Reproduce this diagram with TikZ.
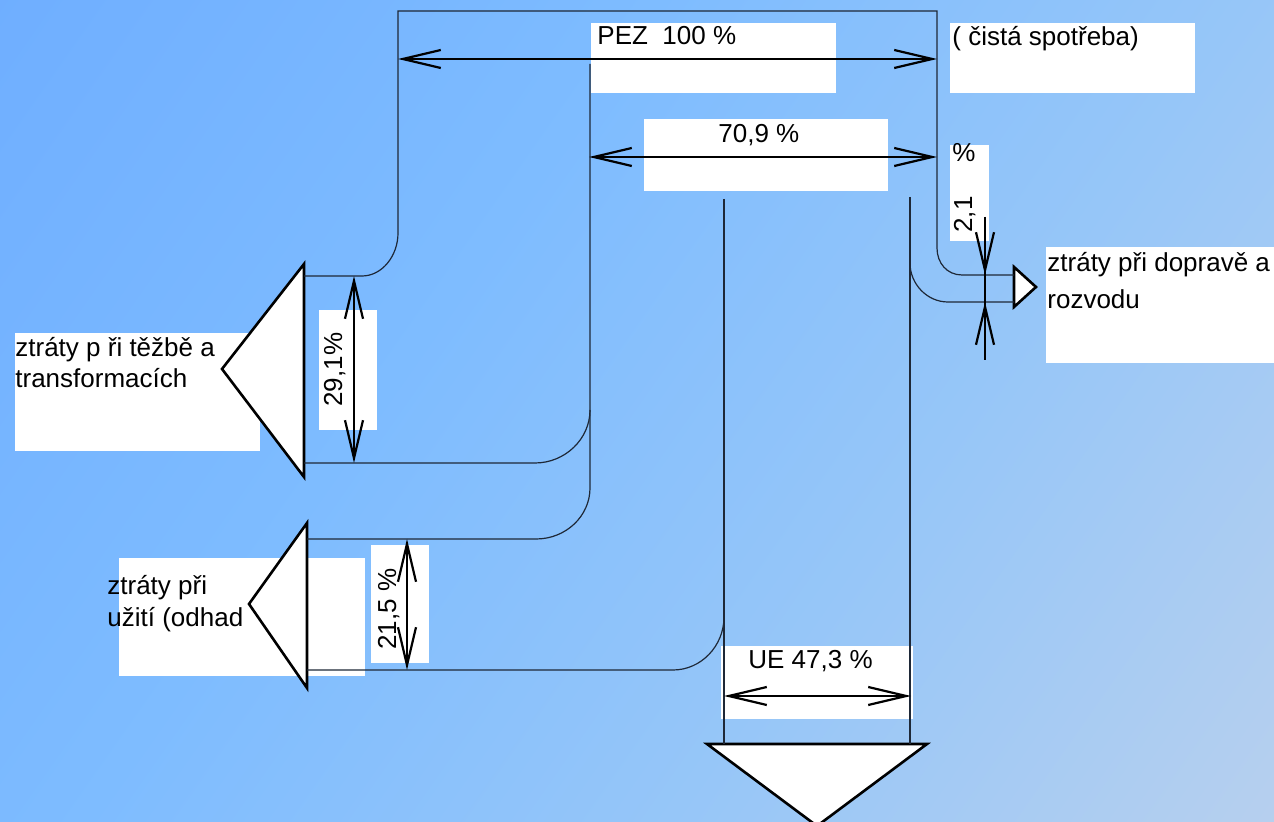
\documentclass[tikz,border=0pt]{standalone}
\usepackage{fontspec}
\setmainfont{Liberation Sans}
\usetikzlibrary{arrows.meta}
\definecolor{bgA}{RGB}{102,166,255}
\definecolor{bgB}{RGB}{126,188,255}
\definecolor{bgD}{RGB}{150,198,248}
\definecolor{bgC}{RGB}{204,214,232}
\definecolor{flowcol}{RGB}{30,40,55}
\pgfdeclarehorizontalshading{bgshade}{100bp}{color(0bp)=(bgA); color(40bp)=(bgB); color(62bp)=(bgD); color(100bp)=(bgC)}
\begin{document}
\begin{tikzpicture}[x=0.5pt,y=-0.5pt,
  flowline/.style={draw=flowcol, line width=0.6pt},
  dimarrow/.style={draw=black, line width=1.1pt, arrows={Straight Barb[length=19pt,width=9pt]-Straight Barb[length=19pt,width=9pt]}},
  halfarrow/.style={draw=black, line width=1.1pt, arrows={-Straight Barb[length=19pt,width=9pt]}},
  dimline/.style={draw=black, line width=1.1pt},
  tri/.style={fill=white, draw=black, line width=1.3pt, line join=miter},
  box/.style={fill=white},
  lbl/.style={inner sep=0pt, anchor=base west, font=\fontsize{13pt}{15.6pt}\selectfont},
  vlbl/.style={lbl, rotate=90}]
\useasboundingbox (0,0) rectangle (1274,822);
\clip (0,0) rectangle (1274,822);
\shade[shading=bgshade, shading angle=-35] (0,0) rectangle (1274,822);

% white label boxes
\path[box] (591,23) rectangle (836,93);
\path[box] (950,23) rectangle (1195,93);
\path[box] (644,119) rectangle (888,191);
\path[box] (950,145) rectangle (989,241);
\path[box] (1046,247) rectangle (1274,363);
\path[box] (15,333) rectangle (260,451);
\path[box] (319,310) rectangle (377,430);
\path[box] (119,558) rectangle (365,676);
\path[box] (371,545) rectangle (429,663);
\path[box] (721,646) rectangle (913,719);

% loss triangles
\draw[tri] (304,264) -- (222,369) -- (304,477) -- cycle;
\draw[tri] (307,523) -- (249,604) -- (307,688) -- cycle;
\draw[tri] (1014,267) -- (1036,287) -- (1014,307) -- cycle;
\draw[tri] (707,744) -- (817,826) -- (927,744) -- cycle;

% named points
\coordinate (pezL) at (398,59);
\coordinate (pezR) at (937,59);
\coordinate (cL) at (589,157);
\coordinate (cR) at (937,157);
\coordinate (tA) at (354,276);
\coordinate (tB) at (354,463);
\coordinate (uA) at (407,539);
\coordinate (uB) at (407,670);
\coordinate (ueL) at (724,696);
\coordinate (ueR) at (911,696);
\coordinate (dTop) at (985,217);
\coordinate (dTip1) at (985,275);
\coordinate (dTip2) at (985,302);
\coordinate (dBot) at (985,360);

% flow lines
\draw[flowline] (304,276) -- (362,276) .. controls (382,276) and (398,256) .. (398,233)
  -- (398,11) -- (937,11) -- (937,248) .. controls (937,263) and (947,275) .. (962,275) -- (1014,275);
\draw[flowline] (590,64) -- (590,488) .. controls (590,516) and (566,539) .. (536,539) -- (307,539);
\draw[flowline] (590,410) .. controls (590,439) and (565,463) .. (535,463) -- (304,463);
\draw[flowline] (910,197) -- (910,744);
\draw[flowline] (910,263) .. controls (910,284) and (927,302) .. (948,302) -- (1014,302);
\draw[flowline] (724,199) -- (724,744);
\draw[flowline] (724,617) .. controls (724,646) and (701,670) .. (673,670) -- (307,670);

% dimension arrows
\draw[dimarrow] (pezL) -- (pezR);
\draw[dimarrow] (cL) -- (cR);
\draw[dimarrow] (tA) -- (tB);
\draw[dimarrow] (uA) -- (uB);
\draw[dimarrow] (ueL) -- (ueR);
\draw[dimline] (dTop) -- (dBot);
\draw[halfarrow] (dTop) -- (dTip1);
\draw[halfarrow] (dBot) -- (dTip2);

% labels
\node[lbl] (pez) at (597,45) {PEZ\ \ 100 \%};
\node[lbl] (cista) at (952,46) {( čistá spotřeba)};
\node[lbl] (c709) at (718,143) {70,9 \%};
\node[lbl] (pct) at (952,162) {\%};
\node[vlbl] (d21) at (972,233) {2,1};
\node[lbl] (dop1) at (1047,272) {ztráty při dopravě a};
\node[lbl] (dop2) at (1047,309) {rozvodu};
\node[lbl] (tez1) at (15,357) {ztráty p ři těžbě a};
\node[lbl] (tez2) at (15,388) {transformacích};
\node[vlbl] (d291) at (342,407) {29,1\%};
\node[lbl] (uzi1) at (107,595) {ztráty při};
\node[lbl] (uzi2) at (107,627) {užití (odhad};
\node[vlbl] (d215) at (396,650) {21,5 \%};
\node[lbl] (ue) at (748,669) {UE 47,3 \%};
\end{tikzpicture}
\end{document}
